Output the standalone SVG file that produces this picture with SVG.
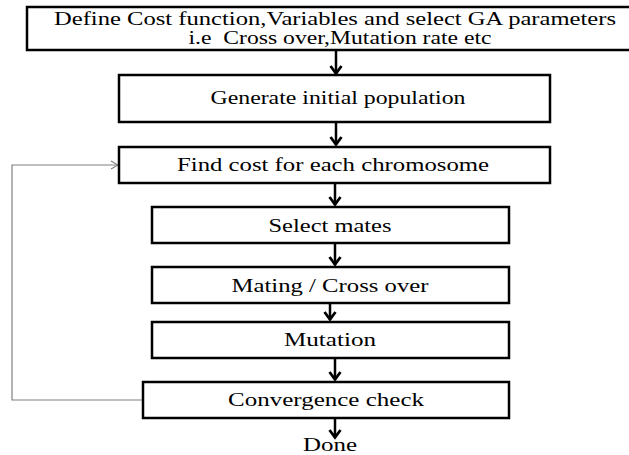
<svg xmlns="http://www.w3.org/2000/svg" width="629" height="455" viewBox="0 0 629 455">
<defs>
<style>
.box{fill:#fff;stroke:#000;stroke-width:2.5}
.t{font-family:"Liberation Serif","Times New Roman",serif;font-size:19px;fill:#000}
.arr{stroke:#000;stroke-width:2.5;fill:none}
.fb{stroke:#808080;stroke-width:1.2;fill:none}
</style>
<marker id="ah" viewBox="0 0 11 14" refX="9.5" refY="7" markerWidth="11" markerHeight="14" markerUnits="userSpaceOnUse" orient="auto">
<path d="M1.5,1.5 L9,7 L1.5,12.5" fill="none" stroke="#000" stroke-width="2.8"/>
</marker>
<marker id="ah2" viewBox="0 0 10 10" refX="9" refY="5" markerWidth="10" markerHeight="10" markerUnits="userSpaceOnUse" orient="auto">
<path d="M2,1 L9,5 L2,9" fill="none" stroke="#808080" stroke-width="1.2"/>
</marker>
</defs>
<rect width="629" height="455" fill="#fff"/>
<g id="connectors">
<path class="arr" d="M336,51 V74" marker-end="url(#ah)"/>
<path class="arr" d="M336,123 V145" marker-end="url(#ah)"/>
<path class="arr" d="M335,184 V205" marker-end="url(#ah)"/>
<path class="arr" d="M335,244 V265" marker-end="url(#ah)"/>
<path class="arr" d="M330,304 V320" marker-end="url(#ah)"/>
<path class="arr" d="M335,359 V380" marker-end="url(#ah)"/>
<path class="arr" d="M335,419 V438" marker-end="url(#ah)"/>
<path class="fb" d="M143,400 H12 V165 H118" marker-end="url(#ah2)"/>
</g>
<g id="n1"><rect class="box" x="27" y="7" width="606" height="43"/>
<text class="t" x="335" y="25" text-anchor="middle" textLength="562" lengthAdjust="spacingAndGlyphs">Define Cost function,Variables and select GA parameters</text>
<text class="t" x="340" y="44" text-anchor="middle" textLength="303" lengthAdjust="spacingAndGlyphs">i.e&#160; Cross over,Mutation rate etc</text></g>
<g id="n2"><rect class="box" x="119" y="75" width="431" height="47"/>
<text class="t" x="338" y="104" text-anchor="middle" textLength="255" lengthAdjust="spacingAndGlyphs">Generate initial population</text></g>
<g id="n3"><rect class="box" x="119" y="147" width="431" height="36"/>
<text class="t" x="333" y="171" text-anchor="middle" textLength="312" lengthAdjust="spacingAndGlyphs">Find cost for each chromosome</text></g>
<g id="n4"><rect class="box" x="152" y="207" width="357" height="36"/>
<text class="t" x="330" y="232" text-anchor="middle" textLength="123" lengthAdjust="spacingAndGlyphs">Select mates</text></g>
<g id="n5"><rect class="box" x="152" y="267" width="357" height="36"/>
<text class="t" x="330" y="292" text-anchor="middle" textLength="197" lengthAdjust="spacingAndGlyphs">Mating / Cross over</text></g>
<g id="n6"><rect class="box" x="152" y="322" width="357" height="36"/>
<text class="t" x="330" y="346" text-anchor="middle" textLength="92" lengthAdjust="spacingAndGlyphs">Mutation</text></g>
<g id="n7"><rect class="box" x="143" y="382" width="366" height="36"/>
<text class="t" x="326" y="406" text-anchor="middle" textLength="196" lengthAdjust="spacingAndGlyphs">Convergence check</text></g>
<g id="n8"><text class="t" x="330" y="451" text-anchor="middle" textLength="54" lengthAdjust="spacingAndGlyphs">Done</text></g>
</svg>
